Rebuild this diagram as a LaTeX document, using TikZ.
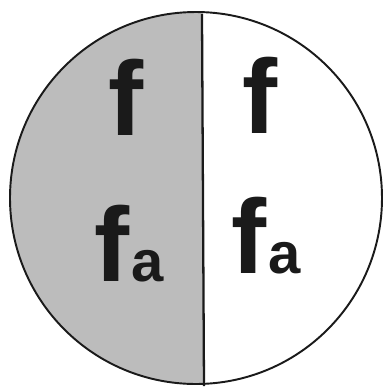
\documentclass[tikz,border=0pt]{standalone}
\usepackage{fontspec}
\setmainfont{Liberation Sans}
\usepackage{tikz}
\usetikzlibrary{positioning}
\definecolor{ink}{HTML}{1a1a1a}
\definecolor{pencil}{HTML}{bcbcbc}
\newcommand{\fa}{f\kern1pt{\fontsize{33}{33}\selectfont a}}

\begin{document}
\begin{tikzpicture}[
  x=0.02cm,y=-0.02cm,
  lbl/.style={font=\bfseries\fontsize{60}{60}\selectfont,color=ink,anchor=base,inner sep=0pt},
  rim/.style={draw=ink,line width=1.1pt},
  split/.style={draw=ink,line width=1.3pt}]
  \useasboundingbox (0,0) rectangle (387,387);
  % shaded half
  \begin{scope}
    \clip (196,198) circle[radius=186];
    \fill[pencil] (0,0) rectangle (203,387);
  \end{scope}
  \draw[rim] (196,198) circle[radius=186];
  \coordinate (top) at (202,14);
  \coordinate (bot) at (204,386);
  \draw[split] (top) -- (bot);
  \node[lbl] (fl) at (126,135) {f};
  \node[lbl] (fr) at (260,133) {f};
  \node[lbl] (fal) at (129,281) {\fa};
  \node[lbl] (far) at (266,273) {\fa};
\end{tikzpicture}
\end{document}
